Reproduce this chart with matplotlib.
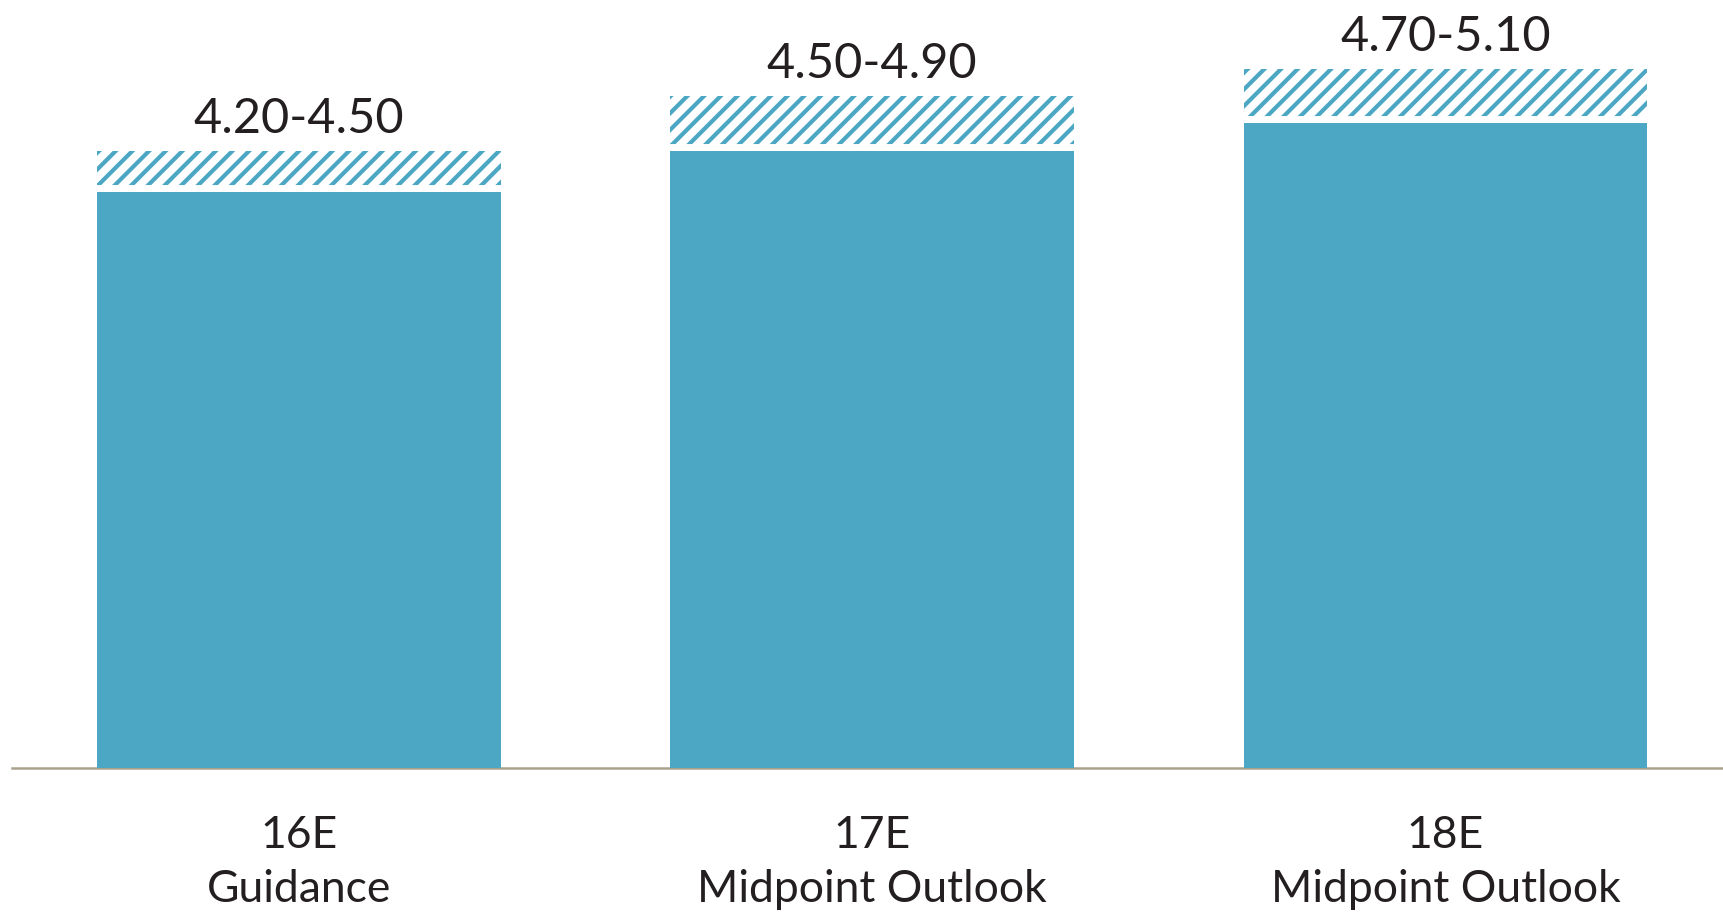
import matplotlib
matplotlib.use('Agg')
import matplotlib.pyplot as plt

plt.rcParams['font.family'] = ['Lato', 'DejaVu Sans']
plt.rcParams['hatch.linewidth'] = 3.0
plt.rcParams['hatch.color'] = '#4CA7C5'

categories = ['16E\nGuidance', '17E\nMidpoint Outlook', '18E\nMidpoint Outlook']
low = [4.20, 4.50, 4.70]
high = [4.50, 4.90, 5.10]
range_labels = ['4.20-4.50', '4.50-4.90', '4.70-5.10']

bar_color = '#4CA7C5'
text_color = '#231F20'

fig = plt.figure(figsize=(17.23, 9.13), dpi=100)
ax = fig.add_axes([12 / 1723, 0.159, 1 - 12 / 1723, 1 - 0.159])

x = list(range(len(categories)))
width = 0.704
spans = [h - l for l, h in zip(low, high)]

# hatched band for the range, then a white gap, then the solid bar
ax.bar(x, spans, width, bottom=low, color='white', edgecolor=bar_color,
       linewidth=0, hatch='//', zorder=2)
for xi, lo in zip(x, low):
    ax.hlines(lo, xi - width / 2, xi + width / 2, color='white',
              linewidth=10, zorder=3)
ax.bar(x, low, width, color=bar_color, edgecolor='none', zorder=4)

for xi, hi, lab in zip(x, high, range_labels):
    ax.annotate(lab, (xi, hi), xytext=(0, 13), textcoords='offset points',
                ha='center', va='baseline', fontsize=35, color=text_color)

ax.set_xlim(-0.5, 2.484)
ax.set_ylim(0, 5.6)
ax.set_xticks(x)
ax.set_xticklabels(categories, fontsize=32, color=text_color, linespacing=1.4)
ax.tick_params(axis='x', length=0, pad=34)
ax.set_yticks([])
for side in ['top', 'right', 'left']:
    ax.spines[side].set_visible(False)
ax.spines['bottom'].set_color('#ABA28E')
ax.spines['bottom'].set_linewidth(1.8)

fig.savefig('out.png', dpi=100)
